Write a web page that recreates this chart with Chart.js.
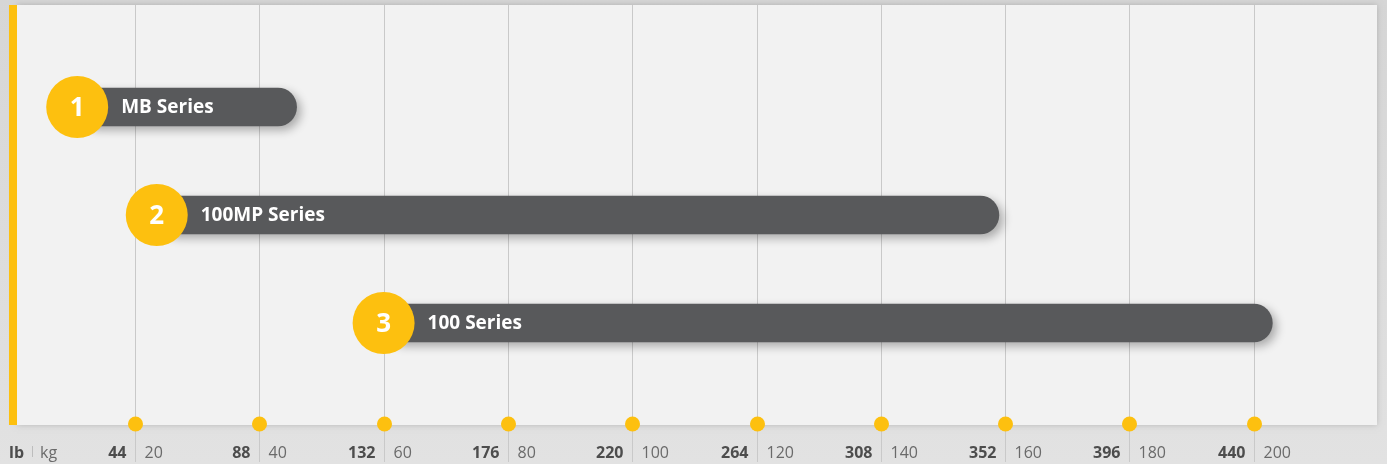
<!DOCTYPE html>
<html><head><meta charset="utf-8">
<script src="https://cdn.jsdelivr.net/npm/chart.js@4"></script>
<style>html,body{margin:0;padding:0;background:#dcdcdc;overflow:hidden}canvas{display:block}</style>
</head><body><canvas id="c" width="1387" height="464"></canvas>
<script>
const categories = ['MB Series', '100MP Series', '100 Series'];
const badgeNumbers = ['1', '2', '3'];
const rangeStartKg = [10.7, 23.5, 60];
const rangeEndKg = [46, 159, 203];
const kgTicks = [20, 40, 60, 80, 100, 120, 140, 160, 180, 200];
const lbTicks = [44, 88, 132, 176, 220, 264, 308, 352, 396, 440];

const YELLOW = '#fdc00f';
const FONT = '"Open Sans", "Noto Sans", sans-serif';

const decor = {
  id: 'decor',
  beforeDraw(chart) {
    const ctx = chart.ctx, W = chart.width, H = chart.height;
    const xs = chart.scales.x;
    ctx.save();
    const g = ctx.createLinearGradient(0, 0, 0, H);
    g.addColorStop(0, '#d6d6d6');
    g.addColorStop(1, '#e2e2e2');
    ctx.fillStyle = g;
    ctx.fillRect(0, 0, W, H);
    ctx.shadowColor = 'rgba(0,0,0,0.18)';
    ctx.shadowBlur = 6;
    ctx.fillStyle = '#f2f2f2';
    ctx.fillRect(17, 5, 1360, 420);
    ctx.shadowColor = 'transparent';
    ctx.fillStyle = YELLOW;
    ctx.fillRect(9, 5, 8, 420);
    ctx.strokeStyle = '#c9c9c9';
    ctx.lineWidth = 1;
    kgTicks.forEach(v => {
      const x = Math.round(xs.getPixelForValue(v)) + 0.5;
      ctx.beginPath(); ctx.moveTo(x, 5); ctx.lineTo(x, 462); ctx.stroke();
    });
    ctx.restore();
  },
  beforeDatasetDraw(chart, args) {
    if (args.index === 0) {
      const ctx = chart.ctx;
      ctx.save();
      ctx.shadowColor = 'rgba(0,0,0,0.30)';
      ctx.shadowBlur = 10;
      ctx.shadowOffsetX = 4;
      ctx.shadowOffsetY = 4;
    }
  },
  afterDatasetDraw(chart, args) {
    if (args.index === 0) chart.ctx.restore();
  },
  afterDatasetsDraw(chart) {
    const ctx = chart.ctx, xs = chart.scales.x;
    const meta = chart.getDatasetMeta(0);
    ctx.save();
    meta.data.forEach((bar, i) => {
      const cx = xs.getPixelForValue(rangeStartKg[i]);
      const cy = bar.y;
      ctx.fillStyle = YELLOW;
      ctx.beginPath(); ctx.arc(cx, cy, 31, 0, Math.PI * 2); ctx.fill();
      ctx.fillStyle = '#ffffff';
      ctx.textBaseline = 'middle';
      ctx.textAlign = 'center';
      ctx.font = 'bold 26px ' + FONT;
      ctx.fillText(badgeNumbers[i], cx, cy + 2);
      ctx.textAlign = 'left';
      ctx.font = 'bold 19px ' + FONT;
      ctx.fillText(categories[i], cx + 31 + 13, cy + 1);
    });
    const yDot = 424;
    kgTicks.forEach((v, i) => {
      const x = Math.round(xs.getPixelForValue(v)) + 0.5;
      ctx.fillStyle = YELLOW;
      ctx.beginPath(); ctx.arc(x, yDot, 7.5, 0, Math.PI * 2); ctx.fill();
      ctx.textBaseline = 'alphabetic';
      ctx.font = 'bold 16px ' + FONT;
      ctx.fillStyle = '#4d4d4d';
      ctx.textAlign = 'right';
      ctx.fillText(String(lbTicks[i]), x - 9, 458);
      ctx.font = '16px ' + FONT;
      ctx.fillStyle = '#6a6a6a';
      ctx.textAlign = 'left';
      ctx.fillText(String(v), x + 9, 458);
    });
    ctx.textAlign = 'left';
    ctx.font = 'bold 16px ' + FONT;
    ctx.fillStyle = '#4d4d4d';
    ctx.fillText('lb', 9, 458);
    ctx.font = '16px ' + FONT;
    ctx.fillStyle = '#6a6a6a';
    ctx.fillText('kg', 40, 458);
    ctx.strokeStyle = '#bdbdbd';
    ctx.beginPath(); ctx.moveTo(32.5, 446); ctx.lineTo(32.5, 457); ctx.stroke();
    ctx.restore();
  }
};

new Chart(document.getElementById('c'), {
  type: 'bar',
  data: {
    labels: categories,
    datasets: [{
      data: categories.map((c, i) => [rangeStartKg[i], rangeEndKg[i]]),
      backgroundColor: '#58595b',
      barThickness: 38,
      borderRadius: 19,
      borderSkipped: false
    }]
  },
  options: {
    indexAxis: 'y',
    responsive: false,
    animation: false,
    layout: { padding: { left: 10.7, right: 9, top: 53, bottom: 87 } },
    plugins: { legend: { display: false }, tooltip: { enabled: false } },
    scales: {
      x: { type: 'linear', min: 0, max: 220, display: false },
      y: { type: 'category', display: false, offset: true }
    }
  },
  plugins: [decor]
});
</script>
</body></html>
